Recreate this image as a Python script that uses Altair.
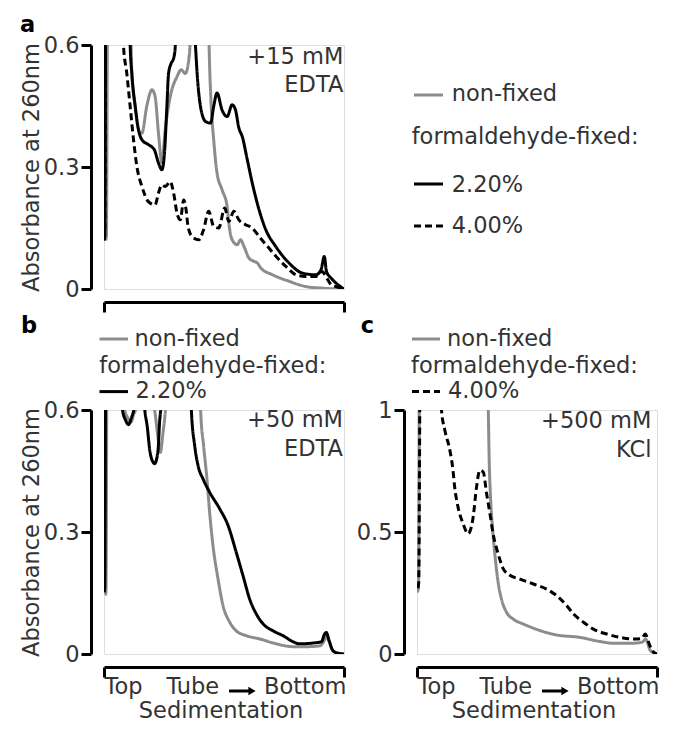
import altair as alt
import pandas as pd

# ---------------- data (t = position along tube, 0 = top, 100 = bottom) ----------------
SERIES = ["non-fixed", "2.20%", "4.00%"]
COLORS = ["#8c8c8c", "#000000", "#000000"]
DASHES = [[1, 0], [1, 0], [7, 4]]

# panel a: +15 mM EDTA
A_NF_T = [0.7, 1.0, 1.8, 5, 9, 11.6, 13.0, 14.4, 15.8, 17.8, 20.0, 21.3, 22.7, 24.1, 25.5, 27.6, 30.4,
          32.2, 33.9, 35.3, 35.8, 37.0, 40.0, 43.0, 43.8, 44.6, 45.7, 47.1, 49.2, 51.3, 52.0, 53.4, 55.5,
          56.9, 58.3, 60.4, 62.5, 63.9, 65.3, 70.2, 77.1, 84.1, 91.1, 100]
A_NF_V = [0.12, 0.13, 1.2, 1.6, 1.6, 0.53, 0.449, 0.391, 0.383, 0.449, 0.49, 0.473, 0.383, 0.31, 0.391,
          0.473, 0.522, 0.539, 0.53, 0.563, 0.596, 0.9, 1.6, 0.9, 0.596, 0.46, 0.367, 0.285, 0.244, 0.203,
          0.162, 0.121, 0.109, 0.121, 0.105, 0.076, 0.068, 0.064, 0.052, 0.035, 0.019, 0.006, 0.002, 0.0]
A_22_T = [0, 0.3, 1.0, 5, 9, 10.9, 11.6, 13.0, 14.4, 15.8, 18.5, 21.0, 22.7, 24.1, 25.2, 26.2, 26.9, 28.0,
          29.0, 29.7, 31, 35, 38.1, 38.8, 40.2, 42.3, 44.4, 45.7, 47.1, 49.2, 51.3, 53.4, 54.8, 56.2, 57.6,
          59.7, 61.8, 64.6, 67.4, 71.5, 77.1, 82.7, 88.3, 90.4, 91.8, 92.7, 94.6, 97.4, 100]
A_22_V = [0.12, 0.13, 1.2, 1.6, 1.6, 0.6, 0.53, 0.449, 0.391, 0.367, 0.355, 0.342, 0.31, 0.293, 0.334,
          0.449, 0.53, 0.555, 0.567, 0.596, 0.9, 0.9, 0.6, 0.53, 0.449, 0.412, 0.408, 0.449, 0.482, 0.44,
          0.424, 0.453, 0.44, 0.396, 0.375, 0.318, 0.26, 0.195, 0.146, 0.105, 0.064, 0.039, 0.035, 0.047,
          0.08, 0.043, 0.027, 0.011, 0.0]
A_40_T = [0, 0.3, 1.0, 4, 7.5, 8.1, 9.5, 10.9, 12.3, 13.7, 15.8, 18.5, 21.3, 22.7, 24.1, 25.5, 27.6, 29.0,
          30.4, 31.8, 33.2, 34.2, 35.0, 36.7, 39.5, 41.5, 43.6, 45.7, 47.8, 50.3, 52.0, 54.1, 56.2, 59.0,
          61.8, 64.6, 68.1, 72.3, 76.4, 79.9, 84.1, 88.3, 90.8, 93.2, 94.6, 96.7, 100]
A_40_V = [0.12, 0.13, 1.2, 1.6, 0.9, 0.6, 0.53, 0.449, 0.367, 0.301, 0.252, 0.215, 0.207, 0.236, 0.256,
          0.252, 0.264, 0.236, 0.187, 0.17, 0.219, 0.195, 0.154, 0.129, 0.121, 0.146, 0.191, 0.154, 0.15,
          0.199, 0.166, 0.191, 0.17, 0.158, 0.15, 0.129, 0.105, 0.076, 0.052, 0.035, 0.031, 0.031, 0.043,
          0.023, 0.011, 0.006, 0.0]

# panel b: +50 mM EDTA
B_NF_T = [0.4, 0.8, 1.5, 5, 8.6, 10.0, 11.2, 12.4, 13.1, 14.5, 18, 21.1, 22.9, 23.5, 24.5, 25.6, 28, 34,
          39.5, 40.3, 41.5, 42.9, 44.0, 45.4, 47.5, 49.6, 52.4, 55.1, 59.3, 64.9, 71.8, 78.8, 84.3, 89.9,
          91.9, 92.6, 93.8, 95.4, 97.5, 100]
B_NF_V = [0.145, 0.15, 1.2, 1.5, 0.6, 0.58, 0.57, 0.59, 0.6, 0.7, 0.7, 0.6, 0.515, 0.496, 0.54, 0.6,
          0.9, 1.5, 0.8, 0.595, 0.512, 0.43, 0.349, 0.267, 0.185, 0.119, 0.078, 0.057, 0.045, 0.037, 0.025,
          0.018, 0.018, 0.02, 0.035, 0.045, 0.03, 0.008, 0.002, 0.0]
B_22_T = [0, 0.3, 1.0, 4, 7.7, 9.0, 10.2, 11.4, 12.4, 14, 16, 17.0, 18.0, 19.1, 20.4, 21.1, 22.5, 23.2,
          23.6, 25, 30, 35, 36.4, 37.8, 39.2, 41.3, 44.0, 48.2, 51.7, 55.1, 57.9, 60.7, 63.5, 66.3, 70.4,
          74.6, 78.8, 81.5, 87.1, 90.6, 91.9, 92.6, 93.8, 95.4, 97.5, 100]
B_22_V = [0.152, 0.16, 1.2, 1.5, 0.6, 0.575, 0.564, 0.58, 0.6, 0.68, 0.68, 0.6, 0.56, 0.5, 0.472, 0.468,
          0.5, 0.574, 0.6, 0.9, 1.5, 0.9, 0.6, 0.512, 0.463, 0.43, 0.398, 0.357, 0.316, 0.25, 0.193,
          0.135, 0.098, 0.074, 0.057, 0.045, 0.03, 0.025, 0.027, 0.03, 0.049, 0.053, 0.033, 0.008, 0.002,
          0.0]

# panel c: +500 mM KCl
C_NF_T = [0, 0.6, 1.5, 5, 15, 25, 29.2, 29.7, 30.1, 30.6, 31.5, 32.5, 33.8, 35.2, 37.3, 40.1, 44.3, 51.3,
          58.2, 68.0, 76.3, 81.9, 88.9, 93.7, 95.3, 97.2, 100]
C_NF_V = [0.253, 0.27, 2.0, 2.5, 2.5, 2.0, 1.2, 1.0, 0.786, 0.649, 0.512, 0.403, 0.294, 0.225, 0.171, 0.143,
          0.123, 0.096, 0.078, 0.068, 0.051, 0.044, 0.044, 0.048, 0.06, 0.015, 0.0]
C_40_T = [0.3, 0.7, 1.7, 5, 9.3, 10.2, 11.6, 13.7, 15.0, 15.7, 17.1, 19.2, 21.3, 23.4, 24.8, 26.2, 27.6,
          29.0, 30.4, 31.7, 33.8, 35.9, 38.7, 42.9, 48.5, 54.0, 58.2, 62.4, 65.2, 69.4, 73.5, 79.1, 84.7,
          90.3, 93.7, 95.1, 96.5, 97.9, 100]
C_40_V = [0.27, 0.29, 2.0, 2.0, 1.15, 1.0, 0.917, 0.835, 0.753, 0.684, 0.602, 0.534, 0.493, 0.561, 0.684,
          0.753, 0.746, 0.657, 0.575, 0.493, 0.411, 0.35, 0.323, 0.307, 0.287, 0.266, 0.239, 0.198, 0.164,
          0.13, 0.102, 0.082, 0.068, 0.061, 0.064, 0.082, 0.048, 0.014, 0.0]

A_TICKS = [0, 0.3, 0.6]
B_TICKS = [0, 0.3, 0.6]
C_TICKS = [0, 0.5, 1]
Y_TITLE = "Absorbance at 260nm"
COND_A = ["+15 mM", "EDTA"]
COND_B = ["+50 mM", "EDTA"]
COND_C = ["+500 mM", "KCl"]
X_WORDS = ["Top", "Tube", "Bottom"]
X_TITLE = "Sedimentation"
LEG_HEAD = "formaldehyde-fixed:"

# ---------------- styling ----------------
FONT = "DejaVu Sans"
TXT = "#333333"
W, H = 240, 244
FS = 22.5


def series_df(items):
    rows = []
    for name, ts, vs in items:
        for i, (t, v) in enumerate(zip(ts, vs)):
            rows.append({"t": t, "v": v, "s": name, "i": i})
    return pd.DataFrame(rows)


def curves(df, ymax, yvals, ytitle=None):
    yax = dict(values=yvals, labelExpr="toString(datum.value)", offset=13, tickSize=10, tickWidth=3,
               domainWidth=3, domainColor="black", tickColor="black", grid=False,
               labelFont=FONT, labelFontSize=FS, labelColor=TXT, labelPadding=2)
    if ytitle:
        yax.update(title=ytitle, titleFont=FONT, titleFontSize=FS, titleFontWeight="normal",
                   titleColor=TXT, titlePadding=0)
    else:
        yax.update(title="")
    return alt.Chart(df).mark_line(clip=True, strokeWidth=3, interpolate="monotone").encode(
        x=alt.X("t:Q", scale=alt.Scale(domain=[0, 100], nice=False, zero=False),
                axis=alt.Axis(values=[0, 100], labels=False, title="", offset=13, tickSize=10,
                              tickWidth=3, domainWidth=3, domainColor="black", tickColor="black",
                              grid=False)),
        y=alt.Y("v:Q", scale=alt.Scale(domain=[0, ymax], nice=False, zero=True), axis=alt.Axis(**yax)),
        color=alt.Color("s:N", scale=alt.Scale(domain=SERIES, range=COLORS), legend=None),
        strokeDash=alt.StrokeDash("s:N", scale=alt.Scale(domain=SERIES, range=DASHES), legend=None),
        order=alt.Order("i:Q"),
    )


ONE = alt.Data(values=[{"k": 1}])


def text(s, x, y, align="left", weight="normal", color=TXT):
    return alt.Chart(ONE).mark_text(text=s, align=align, baseline="alphabetic", font=FONT, fontSize=FS,
                                    fontWeight=weight, color=color).encode(x=alt.value(x), y=alt.value(y))


def sample(x1, x2, y, color, dash=None):
    kw = dict(color=color, strokeWidth=3)
    if dash:
        kw["strokeDash"] = dash
    return alt.Chart(ONE).mark_rule(**kw).encode(x=alt.value(x1), x2=alt.value(x2), y=alt.value(y))


def arrow(x1, x2, y):
    shaft = alt.Chart(ONE).mark_rule(color="black", strokeWidth=3).encode(
        x=alt.value(x1), x2=alt.value(x2), y=alt.value(y))
    head = alt.Chart(ONE).mark_point(shape="triangle-right", filled=True, size=70, color="black",
                                     opacity=1).encode(x=alt.value(x2 + 3), y=alt.value(y))
    return [shaft, head]


def xlabels():
    return [text(X_WORDS[0], 0.5, 283.5), text(X_WORDS[1], 62.5, 283.5), *arrow(125, 145, 281),
            text(X_WORDS[2], 242.5, 283.5, align="right"), text(X_TITLE, 117, 307.5, align="center")]


# ---- panel a
dfa = series_df([(SERIES[0], A_NF_T, A_NF_V), (SERIES[1], A_22_T, A_22_V), (SERIES[2], A_40_T, A_40_V)])
panel_a = alt.layer(
    curves(dfa, 0.6, A_TICKS, Y_TITLE),
    text("a", -84, -12.7, weight="bold", color="black"),
    text(COND_A[0], 239.3, 19, align="right"),
    text(COND_A[1], 239.3, 46.7, align="right"),
    sample(310, 339, 50, COLORS[0]),
    text(SERIES[0], 347.7, 55.7),
    text(LEG_HEAD, 307.7, 99),
    sample(310, 339, 139, COLORS[1]),
    text(SERIES[1], 347.7, 146.7),
    sample(310, 339, 181, COLORS[2], DASHES[2]),
    text(SERIES[2], 347.7, 188.3),
).properties(width=W, height=H)

# ---- panel b
dfb = series_df([(SERIES[0], B_NF_T, B_NF_V), (SERIES[1], B_22_T, B_22_V)])
panel_b = alt.layer(
    curves(dfb, 0.6, B_TICKS, Y_TITLE),
    text("b", -83, -77, weight="bold", color="black"),
    text(COND_B[0], 239, 17.3, align="right"),
    text(COND_B[1], 239, 45.6, align="right"),
    sample(-4.5, 24, -71, COLORS[0]),
    text(SERIES[0], 30.5, -64.4),
    text(LEG_HEAD, -4.7, -36.7),
    sample(-4.5, 24, -18.4, COLORS[1]),
    text(SERIES[1], 31.5, -11.7),
    *xlabels(),
).properties(width=W, height=H)

# ---- panel c
dfc = series_df([(SERIES[0], C_NF_T, C_NF_V), (SERIES[2], C_40_T, C_40_V)])
panel_c = alt.layer(
    curves(dfc, 1, C_TICKS),
    text("c", -56.3, -77, weight="bold", color="black"),
    text(COND_C[0], 234.4, 18.3, align="right"),
    text(COND_C[1], 234.4, 46.6, align="right"),
    sample(-5, 23, -71, COLORS[0]),
    text(SERIES[0], 30, -64.4),
    text(LEG_HEAD, -6, -36.7),
    sample(-5, 23, -18.4, COLORS[2], DASHES[2]),
    text(SERIES[2], 31, -11.7),
    *xlabels(),
).properties(width=W, height=H)

chart = alt.vconcat(
    panel_a,
    alt.hconcat(panel_b, panel_c, spacing=8),
    spacing=0,
).properties(
    padding={"left": 11, "top": 5, "right": 5, "bottom": 5}
).configure_view(stroke=None).configure(background="white")

chart.save("out.html", embed_options={"renderer": "svg", "actions": False})
